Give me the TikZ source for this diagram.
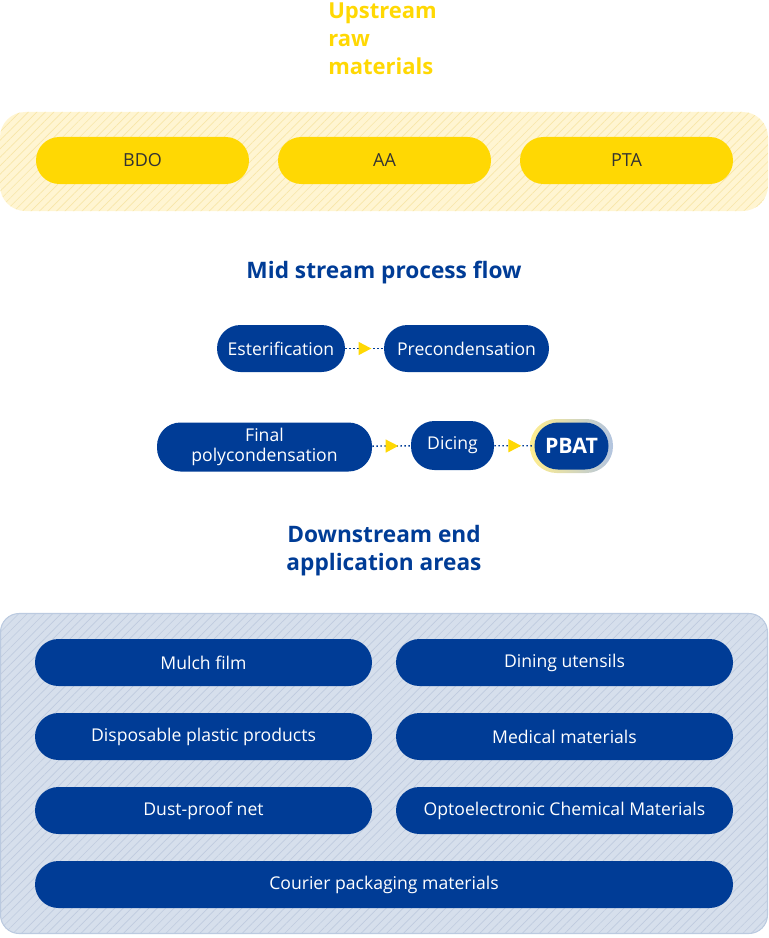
\documentclass[tikz,border=0pt]{standalone}
\usepackage{fontspec}
\setmainfont{Open Sans}
\usepackage{tikz}
\usetikzlibrary{patterns.meta, decorations.markings, arrows.meta}

\definecolor{navy}{HTML}{003C96}
\definecolor{gold}{HTML}{FFD803}
\definecolor{paleGold}{HTML}{FFF5D2}
\definecolor{stripeGold}{HTML}{F8E6A8}
\definecolor{paleBlue}{HTML}{D6DFEC}
\definecolor{stripeBlue}{HTML}{BFCBDF}
\definecolor{edgeBlue}{HTML}{BBCAE0}
\definecolor{darkText}{HTML}{333333}

\begin{document}
\begin{tikzpicture}[x=0.75pt, y=-0.75pt,
    rawpill/.style={fill=gold, text=darkText, rounded corners=17.6pt,
        minimum width=159.75pt, minimum height=35.25pt, inner sep=0pt,
        font=\fontsize{13.5}{15}\selectfont},
    pill/.style={fill=navy, text=white, rounded corners=17.6pt,
        minimum height=35.25pt, inner sep=0pt, align=center,
        font=\fontsize{13.2}{15.5}\selectfont},
    heading/.style={text=navy, font=\fontsize{17}{21}\selectfont\bfseries, align=center},
    flow/.style={navy, line width=1pt, dash pattern=on 1.2pt off 1.8pt,
        postaction={decorate},
        decoration={markings, mark=at position 0.52 with {\fill[gold] (-5pt,-5pt) -- (4.5pt,0) -- (-5pt,5pt) -- cycle;}}}]
    % Rahmen.
    \useasboundingbox (0,0) rectangle (768,938);

    % Upstream.
    \node[anchor=north west, inner sep=0pt, align=left, text=gold,
        font=\fontsize{16.5}{21}\selectfont\bfseries] (uptitle) at (328,2.5) {Upstream\\raw\\materials};
    \fill[paleGold, rounded corners=19pt] (0,112) rectangle (768,211);
    \fill[pattern={Lines[angle=45, distance=4.5pt, line width=0.5pt]}, pattern color=stripeGold,
        rounded corners=19pt] (0,112) rectangle (768,211);
    \node[rawpill] (bdo) at (142.5,160.5) {BDO};
    \node[rawpill] (aa)  at (384.5,160.5) {AA};
    \node[rawpill] (pta) at (626.5,160.5) {PTA};

    % Midstream.
    \node[heading] (midtitle) at (384,273) {Mid stream process flow};
    \node[pill, minimum width=96pt] (ester) at (281,348.5) {Esterification};
    \node[pill, minimum width=123.75pt] (precond) at (466.5,348.5) {Precondensation};
    \node[pill, minimum width=161.25pt, minimum height=36.75pt] (finalpc) at (264.5,447) {Final\\polycondensation};
    \node[pill, minimum width=62.25pt, minimum height=36.75pt] (dicing) at (452.5,445.5) {Dicing};
    \shade[left color=gold!45, right color=navy!30, rounded corners=20pt] (530,419) rectangle (613,473);
    \node[pill, minimum width=55.5pt, minimum height=35.25pt, rounded corners=17.6pt,
        font=\fontsize{16}{16}\selectfont\bfseries] (pbat) at (571.5,446) {PBAT};
    \draw[flow] (ester) -- (precond);
    \draw[flow] (finalpc) -- (dicing);
    \draw[flow] (dicing) -- (pbat);

    % Downstream.
    \node[heading] (downtitle) at (384,551) {Downstream end\\application areas};
    \fill[paleBlue, rounded corners=14pt] (0.5,613.5) rectangle (767.5,933.5);
    \fill[pattern={Lines[angle=45, distance=4.5pt, line width=0.5pt]}, pattern color=stripeBlue,
        rounded corners=14pt] (0.5,613.5) rectangle (767.5,933.5);
    \draw[edgeBlue, line width=0.8pt, rounded corners=14pt] (0.5,613.5) rectangle (767.5,933.5);
    \node[pill, minimum width=252.75pt] (mulch)   at (203.5,662.5) {Mulch film};
    \node[pill, minimum width=252.75pt] (dining)  at (564.5,662.5) {Dining utensils};
    \node[pill, minimum width=252.75pt] (dispo)   at (203.5,736.5) {Disposable plastic products};
    \node[pill, minimum width=252.75pt] (medical) at (564.5,736.5) {Medical materials};
    \node[pill, minimum width=252.75pt] (dust)    at (203.5,810.5) {Dust-proof net};
    \node[pill, minimum width=252.75pt] (opto)    at (564.5,810.5) {Optoelectronic Chemical Materials};
    \node[pill, minimum width=523.5pt] (courier)  at (384,884.5) {Courier packaging materials};
\end{tikzpicture}
\end{document}
